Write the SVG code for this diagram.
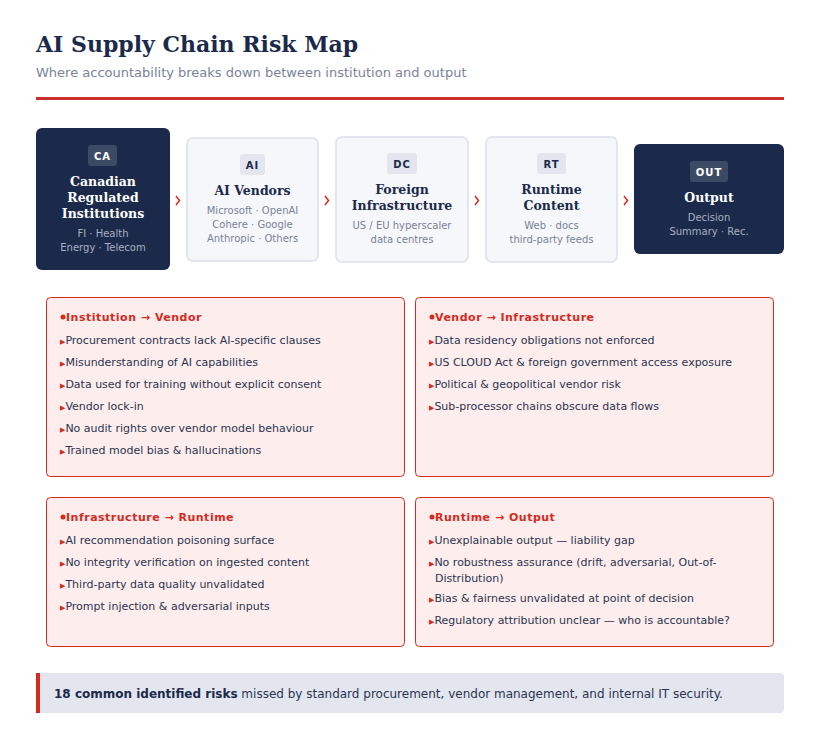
<svg xmlns="http://www.w3.org/2000/svg" width="820" height="745" viewBox="0 0 820 745">
<style>
.t{font-family:"DejaVu Serif",serif;font-weight:bold}
.s{font-family:"DejaVu Sans",sans-serif}
.dark{fill:#1b2a4a}
.light{fill:#f6f7fa;stroke:#e3e6ee;stroke-width:2}
.badgeD{fill:#3d4a66}.badgeL{fill:#e3e6ee}
.bt{font-family:"DejaVu Sans",sans-serif;font-weight:bold;font-size:10px;letter-spacing:1px;text-anchor:middle}
.nt{font-family:"DejaVu Serif",serif;font-weight:bold;font-size:12.5px;text-anchor:middle}
.st{font-family:"DejaVu Sans",sans-serif;font-size:10px;text-anchor:middle}
.arr{fill:none;stroke:#d42a1f;stroke-width:1.5}
.rb{fill:#fdeeed;stroke:#d42a1f;stroke-width:1}
.rh{font-family:"DejaVu Sans",sans-serif;font-weight:bold;font-size:11px;fill:#d42a1f;letter-spacing:0.5px}
.ri{font-family:"DejaVu Sans",sans-serif;font-size:11px;fill:#2a3450}
.bu{fill:#d42a1f;font-size:7px}
.dot{fill:#d42a1f}
</style>
<rect width="820" height="745" fill="#fff"/>
<text x="36" y="52" class="t" font-size="22" fill="#1b2a4a">AI Supply Chain Risk Map</text>
<text x="36" y="77" class="s" font-size="13" fill="#7a8299">Where accountability breaks down between institution and output</text>
<rect x="36" y="97" width="748" height="3" fill="#c9302c"/>

<g id="node-ca"><rect x="36" y="128" width="134" height="142" rx="6" class="dark"/>
<rect x="88" y="145" width="29" height="21" rx="3" class="badgeD"/><text x="102.5" y="160" class="bt" fill="#fff">CA</text>
<text class="nt" fill="#fff"><tspan x="103" y="186">Canadian</tspan><tspan x="103" y="202">Regulated</tspan><tspan x="103" y="218">Institutions</tspan></text>
<text class="st" fill="#a8b0c4"><tspan x="103" y="237">FI · Health</tspan><tspan x="103" y="251">Energy · Telecom</tspan></text></g>

<g id="node-ai"><rect x="187" y="138" width="131" height="123" rx="6" class="light"/>
<rect x="240" y="154" width="25" height="21" rx="3" class="badgeL"/><text x="252.5" y="169" class="bt" fill="#1b2a4a">AI</text>
<text x="252.5" y="195" class="nt" fill="#1b2a4a">AI Vendors</text>
<text class="st" fill="#7a8299"><tspan x="252.5" y="214">Microsoft · OpenAI</tspan><tspan x="252.5" y="228">Cohere · Google</tspan><tspan x="252.5" y="242">Anthropic · Others</tspan></text></g>

<g id="node-dc"><rect x="336" y="137" width="132" height="125" rx="6" class="light"/>
<rect x="387" y="153" width="30" height="21" rx="3" class="badgeL"/><text x="402" y="168" class="bt" fill="#1b2a4a">DC</text>
<text class="nt" fill="#1b2a4a"><tspan x="402" y="194">Foreign</tspan><tspan x="402" y="210">Infrastructure</tspan></text>
<text class="st" fill="#7a8299"><tspan x="402" y="229">US / EU hyperscaler</tspan><tspan x="402" y="243">data centres</tspan></text></g>

<g id="node-rt"><rect x="486" y="137" width="131" height="125" rx="6" class="light"/>
<rect x="537" y="153" width="29" height="21" rx="3" class="badgeL"/><text x="551.5" y="168" class="bt" fill="#1b2a4a">RT</text>
<text class="nt" fill="#1b2a4a"><tspan x="551.5" y="194">Runtime</tspan><tspan x="551.5" y="210">Content</tspan></text>
<text class="st" fill="#7a8299"><tspan x="551.5" y="229">Web · docs</tspan><tspan x="551.5" y="243">third-party feeds</tspan></text></g>

<g id="node-out"><rect x="634" y="144" width="150" height="110" rx="6" class="dark"/>
<rect x="690" y="161" width="38" height="21" rx="3" class="badgeD"/><text x="709" y="176" class="bt" fill="#fff">OUT</text>
<text x="709" y="202" class="nt" fill="#fff">Output</text>
<text class="st" fill="#a8b0c4"><tspan x="709" y="221">Decision</tspan><tspan x="709" y="235">Summary · Rec.</tspan></text></g>

<g id="connectors">
<path d="M176 196 L179.5 200.5 L176 205" class="arr"/>
<path d="M325 196 L328.5 200.5 L325 205" class="arr"/>
<path d="M475 196 L478.5 200.5 L475 205" class="arr"/>
<path d="M624 196 L627.5 200.5 L624 205" class="arr"/>
</g>

<g id="risk-1"><rect x="46.5" y="297.5" width="358" height="179" rx="4" class="rb"/>
<circle cx="63" cy="317" r="2.5" class="dot"/>
<text x="66" y="321" class="rh">Institution → Vendor</text>
<text class="ri"><tspan x="60" y="344"><tspan class="bu">▶</tspan>Procurement contracts lack AI-specific clauses</tspan>
<tspan x="60" y="366"><tspan class="bu">▶</tspan>Misunderstanding of AI capabilities</tspan>
<tspan x="60" y="388"><tspan class="bu">▶</tspan>Data used for training without explicit consent</tspan>
<tspan x="60" y="410"><tspan class="bu">▶</tspan>Vendor lock-in</tspan>
<tspan x="60" y="432"><tspan class="bu">▶</tspan>No audit rights over vendor model behaviour</tspan>
<tspan x="60" y="454"><tspan class="bu">▶</tspan>Trained model bias &amp; hallucinations</tspan></text></g>

<g id="risk-2"><rect x="415.5" y="297.5" width="358" height="179" rx="4" class="rb"/>
<circle cx="432" cy="317" r="2.5" class="dot"/>
<text x="435" y="321" class="rh">Vendor → Infrastructure</text>
<text class="ri"><tspan x="429" y="344"><tspan class="bu">▶</tspan>Data residency obligations not enforced</tspan>
<tspan x="429" y="366"><tspan class="bu">▶</tspan>US CLOUD Act &amp; foreign government access exposure</tspan>
<tspan x="429" y="388"><tspan class="bu">▶</tspan>Political &amp; geopolitical vendor risk</tspan>
<tspan x="429" y="410"><tspan class="bu">▶</tspan>Sub-processor chains obscure data flows</tspan></text></g>

<g id="risk-3"><rect x="46.5" y="497.5" width="358" height="149" rx="4" class="rb"/>
<circle cx="63" cy="517" r="2.5" class="dot"/>
<text x="66" y="521" class="rh">Infrastructure → Runtime</text>
<text class="ri"><tspan x="60" y="544"><tspan class="bu">▶</tspan>AI recommendation poisoning surface</tspan>
<tspan x="60" y="566"><tspan class="bu">▶</tspan>No integrity verification on ingested content</tspan>
<tspan x="60" y="588"><tspan class="bu">▶</tspan>Third-party data quality unvalidated</tspan>
<tspan x="60" y="610"><tspan class="bu">▶</tspan>Prompt injection &amp; adversarial inputs</tspan></text></g>

<g id="risk-4"><rect x="415.5" y="497.5" width="358" height="149" rx="4" class="rb"/>
<circle cx="432" cy="517" r="2.5" class="dot"/>
<text x="435" y="521" class="rh">Runtime → Output</text>
<text class="ri"><tspan x="429" y="544"><tspan class="bu">▶</tspan>Unexplainable output — liability gap</tspan>
<tspan x="429" y="566"><tspan class="bu">▶</tspan>No robustness assurance (drift, adversarial, Out-of-</tspan>
<tspan x="435" y="582">Distribution)</tspan>
<tspan x="429" y="602"><tspan class="bu">▶</tspan>Bias &amp; fairness unvalidated at point of decision</tspan>
<tspan x="429" y="624"><tspan class="bu">▶</tspan>Regulatory attribution unclear — who is accountable?</tspan></text></g>

<g id="footer"><rect x="36" y="673" width="748" height="40" rx="4" fill="#e3e6ee"/>
<rect x="36" y="673" width="4" height="40" fill="#d42a1f"/>
<text x="54" y="698" class="s" font-size="12" fill="#2a3450"><tspan font-weight="bold" fill="#1b2a4a">18 common identified risks</tspan> missed by standard procurement, vendor management, and internal IT security.</text></g>
</svg>
